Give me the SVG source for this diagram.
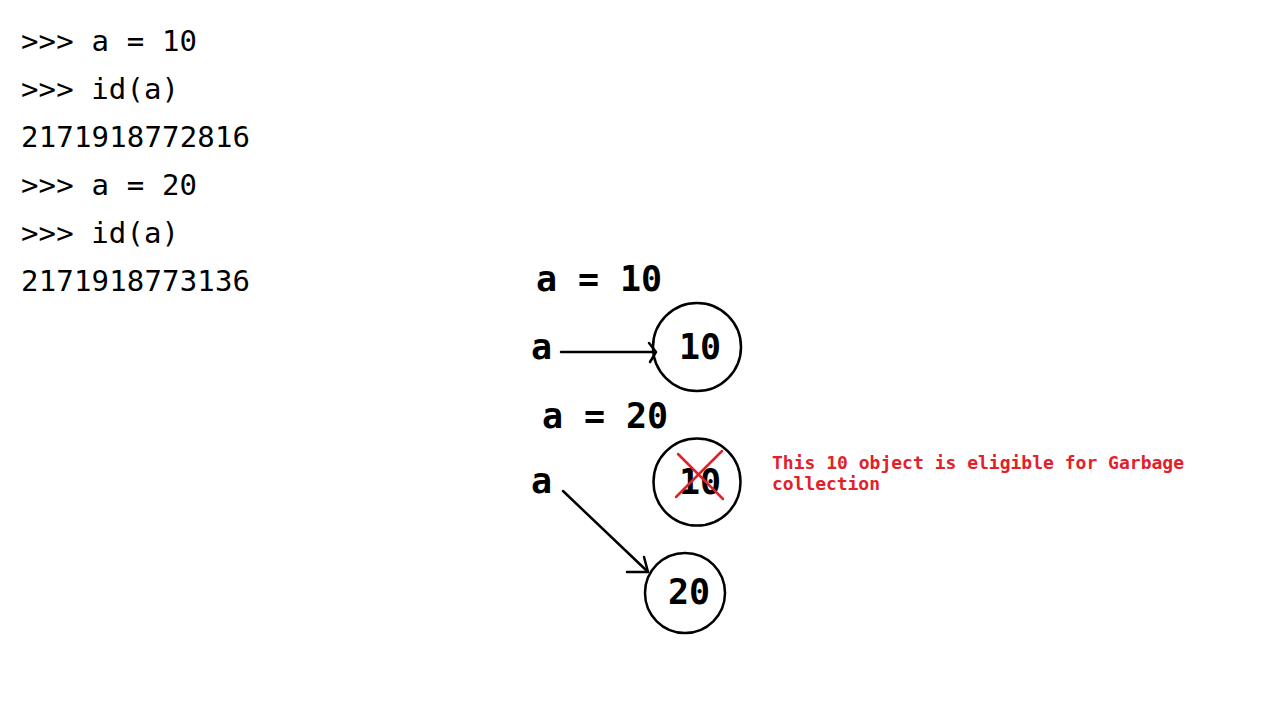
<svg xmlns="http://www.w3.org/2000/svg" width="1280" height="720" viewBox="0 0 1280 720">
<style>
.code{font-family:"DejaVu Sans Mono","Liberation Mono",monospace;font-size:29px;fill:#000}
.big{font-family:"DejaVu Sans Mono","Liberation Mono",monospace;font-size:35px;font-weight:bold;fill:#000}
.note{font-family:"DejaVu Sans Mono","Liberation Mono",monospace;font-size:18px;font-weight:bold;fill:#e3202a}
.node{fill:none;stroke:#000;stroke-width:2.5}
.edge{fill:none;stroke:#000;stroke-width:2.5;stroke-linecap:round;stroke-linejoin:round}
.cross{stroke:#e3202a;stroke-width:2.5;stroke-linecap:round}
</style>
<rect width="1280" height="720" fill="#fff"/>
<g id="code">
<text class="code" x="21" y="51" textLength="176" lengthAdjust="spacing">&gt;&gt;&gt; a = 10</text>
<text class="code" x="21" y="99" textLength="158" lengthAdjust="spacing">&gt;&gt;&gt; id(a)</text>
<text class="code" x="21" y="147" textLength="229" lengthAdjust="spacing">2171918772816</text>
<text class="code" x="21" y="195" textLength="176" lengthAdjust="spacing">&gt;&gt;&gt; a = 20</text>
<text class="code" x="21" y="243" textLength="158" lengthAdjust="spacing">&gt;&gt;&gt; id(a)</text>
<text class="code" x="21" y="291" textLength="229" lengthAdjust="spacing">2171918773136</text>
</g>
<g id="label-a10"><text class="big" x="536" y="291" textLength="126" lengthAdjust="spacing">a = 10</text></g>
<g id="var-a1"><text class="big" x="531" y="359">a</text></g>
<g id="obj-10"><circle class="node" cx="697" cy="347" r="44"/><text class="big" x="679" y="359" textLength="42" lengthAdjust="spacing">10</text></g>
<g id="label-a20"><text class="big" x="542" y="428" textLength="126" lengthAdjust="spacing">a = 20</text></g>
<g id="var-a2"><text class="big" x="531" y="493">a</text></g>
<g id="obj-10-old">
<circle class="node" cx="697" cy="482" r="43.5"/>
<text class="big" x="679" y="494" textLength="42" lengthAdjust="spacing">10</text>
<line class="cross" x1="678" y1="454" x2="723" y2="499"/>
<line class="cross" x1="722" y1="451" x2="676" y2="497"/>
</g>
<g id="obj-20"><circle class="node" cx="685" cy="593" r="40"/><text class="big" x="668" y="604" textLength="42" lengthAdjust="spacing">20</text></g>
<g id="note">
<text class="note" x="772" y="469" textLength="412" lengthAdjust="spacing">This 10 object is eligible for Garbage</text>
<text class="note" x="772" y="490" textLength="108" lengthAdjust="spacing">collection</text>
</g>
<g id="connectors">
<line class="edge" x1="561" y1="352" x2="655" y2="352"/>
<polyline class="edge" points="649,343 656,352 650,362"/>
<line class="edge" x1="563" y1="491" x2="647" y2="571"/>
<polyline class="edge" points="627,572 648,572 644,557"/>
</g>
</svg>
